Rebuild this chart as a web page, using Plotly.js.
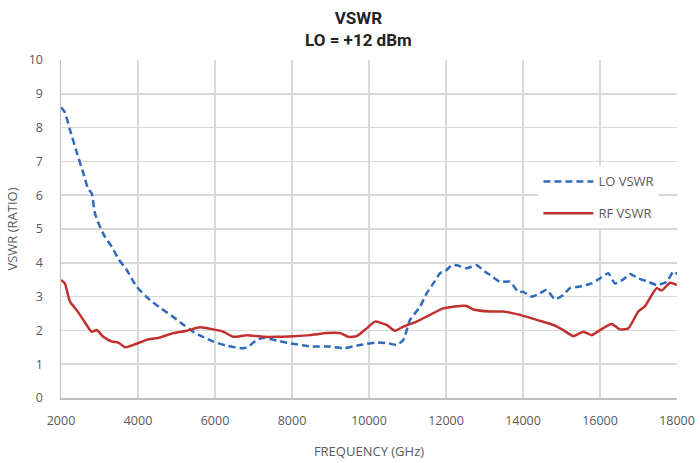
<!DOCTYPE html>
<html>
<head>
<meta charset="utf-8">
<script src="https://cdn.plot.ly/plotly-3.0.1.min.js"></script>
<style>html,body{margin:0;padding:0;background:#fff;}#chart{width:700px;height:463px;}</style>
</head>
<body>
<div id="chart"></div>
<script>
const loFreq = [2000,2100,2234,2400,2580,2700,2800,2880,3000,3140,3317,3500,3700,3966,4312,4600,4917,5200,5436,5700,5955,6300,6735,6900,7083,7300,7600,7948,8467,9000,9332,9766,10200,10500,10719,10894,11065,11325,11500,11670,11844,12018,12147,12278,12537,12797,13000,13143,13403,13662,13878,14005,14225,14442,14615,14831,15047,15221,15481,15784,16000,16217,16390,16607,16780,16995,17255,17472,17732,17905,18000];
const loVswr = [8.6,8.45,7.93,7.3,6.65,6.2,6.05,5.47,5.1,4.77,4.48,4.1,3.8,3.29,2.9,2.65,2.4,2.15,1.96,1.8,1.67,1.55,1.47,1.55,1.72,1.78,1.7,1.62,1.53,1.52,1.47,1.57,1.64,1.62,1.57,1.72,2.31,2.7,3.1,3.39,3.69,3.79,3.93,3.93,3.84,3.93,3.75,3.64,3.44,3.44,3.14,3.14,3.0,3.1,3.2,2.92,3.05,3.25,3.3,3.39,3.54,3.69,3.39,3.51,3.67,3.54,3.44,3.34,3.44,3.74,3.67];
const rfFreq = [2000,2100,2234,2407,2580,2797,2927,3100,3317,3490,3663,3879,4226,4571,4917,5265,5610,5955,6215,6475,6823,7255,7603,8034,8467,8900,9247,9462,9680,9940,10156,10460,10675,10890,11237,11584,11930,12234,12537,12710,13143,13489,13922,14355,14788,15047,15307,15567,15784,16000,16304,16520,16736,16995,17169,17472,17602,17818,18000];
const rfVswr = [3.49,3.39,2.85,2.6,2.31,1.96,2.01,1.81,1.67,1.64,1.5,1.57,1.72,1.79,1.92,1.99,2.09,2.03,1.96,1.81,1.86,1.81,1.81,1.83,1.86,1.92,1.92,1.81,1.83,2.06,2.26,2.16,1.99,2.11,2.26,2.46,2.65,2.71,2.72,2.62,2.56,2.56,2.46,2.31,2.16,2.01,1.83,1.96,1.86,2.01,2.19,2.03,2.06,2.56,2.72,3.25,3.18,3.41,3.34];
const xTicks = [2000,4000,6000,8000,10000,12000,14000,16000,18000];
const yTicks = [0,1,2,3,4,5,6,7,8,9,10];

const tickFont = {family: 'Open Sans, Liberation Sans, sans-serif', size: 12.5, color: '#595959'};

const traces = [
  {x: loFreq, y: loVswr, name: 'LO VSWR', legendgroup: 'lo', mode: 'lines', type: 'scatter',
   line: {color: '#2f6bbd', width: 2.5, dash: '7px,4px', shape: 'spline', smoothing: 0.5}},
  {x: rfFreq, y: rfVswr, name: 'RF VSWR', legendgroup: 'rf', mode: 'lines', type: 'scatter',
   line: {color: '#c0302e', width: 2.5, shape: 'spline', smoothing: 0.5}}
];

const layout = {
  width: 700, height: 463,
  margin: {l: 61, r: 23, t: 60, b: 65},
  paper_bgcolor: '#ffffff', plot_bgcolor: '#ffffff',
  title: {text: '<b>VSWR</b><br><b>LO = +12 dBm</b>', x: 0.512, xanchor: 'center', y: 0.948, yanchor: 'middle',
          font: {family: 'Roboto, Open Sans, sans-serif', size: 17, color: '#222222'}},
  xaxis: {range: [2000, 18000], tickvals: xTicks, ticktext: xTicks.map(String),
          showgrid: true, gridcolor: '#d9d9d9', gridwidth: 1.5, zeroline: false,
          showline: true, linecolor: '#bfbfbf', linewidth: 1.5, ticks: '',
          tickfont: tickFont, automargin: false, ticklabelstandoff: 10,
          title: {text: 'FREQUENCY (GHz)', font: {family: 'Open Sans, sans-serif', size: 13, color: '#595959'}, standoff: 19}},
  yaxis: {range: [0, 10], tickvals: yTicks, ticktext: yTicks.map(String),
          showgrid: true, gridcolor: '#d9d9d9', gridwidth: 1.5, zeroline: false,
          showline: true, linecolor: '#bfbfbf', linewidth: 1.5, ticks: '',
          tickfont: tickFont, automargin: false, ticklabelstandoff: 14,
          title: {text: 'VSWR (RATIO)', font: {family: 'Open Sans, sans-serif', size: 13, color: '#595959'}, standoff: 8}},
  showlegend: true,
  legend: {x: 0.775, y: 0.685, xanchor: 'left', yanchor: 'top', bgcolor: '#ffffff', borderwidth: 0,
           font: {family: 'Open Sans, sans-serif', size: 13, color: '#595959'}, tracegroupgap: 12, itemwidth: 50}
};

Plotly.newPlot('chart', traces, layout, {displayModeBar: false, staticPlot: true});
</script>
</body>
</html>
